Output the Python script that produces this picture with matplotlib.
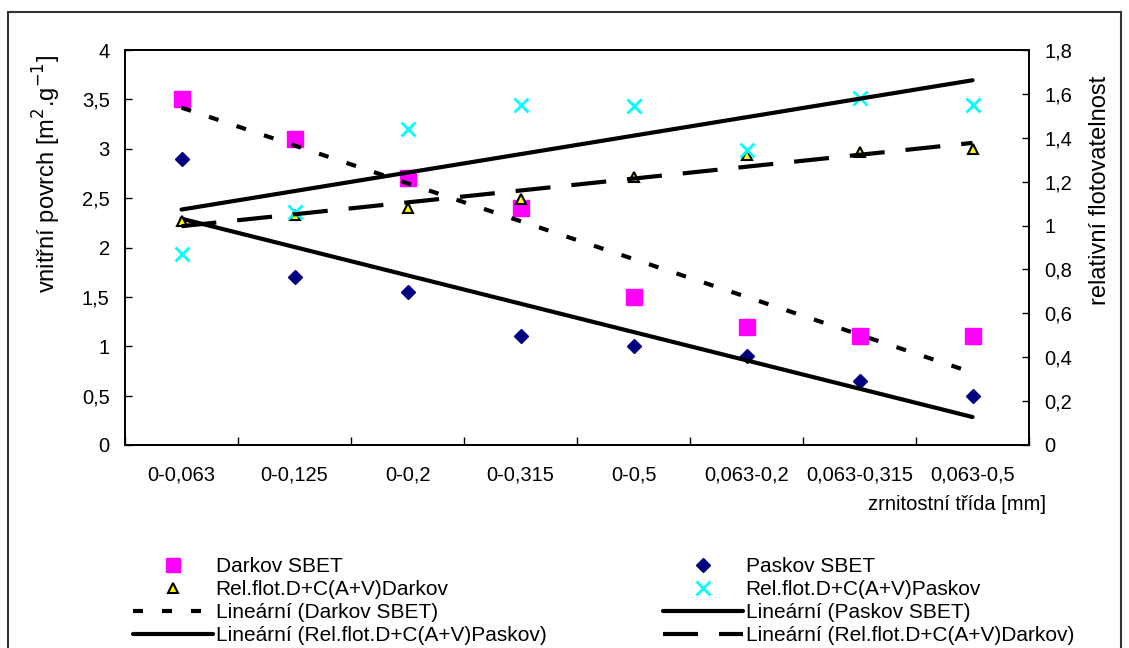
import numpy as np
import matplotlib
matplotlib.use("Agg")
import matplotlib.pyplot as plt
from matplotlib.lines import Line2D
from matplotlib.patches import Rectangle

plt.rcParams['font.family'] = ['Liberation Sans', 'DejaVu Sans']

categories = ['0-0,063', '0-0,125', '0-0,2', '0-0,315', '0-0,5',
              '0,063-0,2', '0,063-0,315', '0,063-0,5']
darkov_sbet = [3.5, 3.1, 2.7, 2.4, 1.5, 1.2, 1.1, 1.1]
paskov_sbet = [2.9, 1.7, 1.55, 1.1, 1.0, 0.9, 0.65, 0.5]
relflot_darkov = [1.02, 1.05, 1.08, 1.12, 1.22, 1.32, 1.335, 1.35]
relflot_paskov = [0.87, 1.06, 1.44, 1.55, 1.545, 1.345, 1.58, 1.55]

left_ticks = [0, 0.5, 1, 1.5, 2, 2.5, 3, 3.5, 4]
left_tick_labels = ['0', '0,5', '1', '1,5', '2', '2,5', '3', '3,5', '4']
right_ticks = [0, 0.2, 0.4, 0.6, 0.8, 1.0, 1.2, 1.4, 1.6, 1.8]
right_tick_labels = ['0', '0,2', '0,4', '0,6', '0,8', '1', '1,2', '1,4', '1,6', '1,8']

W, H = 1129, 648
FS = 14.5
LFS = 15
AFS = 17
fig = plt.figure(figsize=(W / 100, H / 100), dpi=100)
L, R, T, B = 125, 1029, 50, 445
ax = fig.add_axes([L / W, 1 - B / H, (R - L) / W, (B - T) / H])
ax2 = ax.twinx()

x = np.arange(len(categories))

# markers
ax.plot(x, darkov_sbet, ls='none', marker='s', ms=11.3, mfc='#FF00FF', mec='#FF00FF', zorder=3)
ax.plot(x, paskov_sbet, ls='none', marker='D', ms=7.2, mfc='#000080', mec='#000080', zorder=3)
ax2.plot(x, relflot_darkov, ls='none', marker='^', ms=6.5, mfc='#FFFF00', mec='black', mew=1.5, zorder=2)
ax2.plot(x, relflot_paskov, ls='none', marker='x', ms=10.5, mec='#00FFFF', mew=2.0, zorder=2)

lw = 3.0
lw_px = lw * 100 / 72
short_dash = (10 / lw_px, 19 / lw_px)
long_dash = (35 / lw_px, 21 / lw_px)

# linear trend lines
xs = np.array([x[0], x[-1]])
c = np.polyfit(x, darkov_sbet, 1)
ax.plot(xs, np.polyval(c, xs), color='black', lw=lw, dashes=short_dash, zorder=4)
c = np.polyfit(x, paskov_sbet, 1)
ax.plot(xs, np.polyval(c, xs), color='black', lw=lw, solid_capstyle='round', zorder=4)
c = np.polyfit(x, relflot_paskov, 1)
ax2.plot(xs, np.polyval(c, xs), color='black', lw=lw, solid_capstyle='round', zorder=4)
c = np.polyfit(x, relflot_darkov, 1)
ax2.plot(xs, np.polyval(c, xs), color='black', lw=lw, dashes=long_dash, zorder=4)

ax.set_xlim(-0.5, len(categories) - 0.5)
ax.set_ylim(0, 4)
ax2.set_ylim(0, 1.8)

ax.set_xticks(np.arange(len(categories) + 1) - 0.5)
ax.set_xticklabels([])
ax.set_xticks(x, minor=True)
ax.set_xticklabels(categories, minor=True, fontsize=FS)
ax.tick_params(axis='x', which='major', direction='in', length=6, width=1)
ax.tick_params(axis='x', which='minor', length=0, pad=15)

ax.set_yticks(left_ticks)
ax.set_yticklabels(left_tick_labels, fontsize=FS)
ax.tick_params(axis='y', direction='in', length=5, width=1, pad=11)
ax2.set_yticks(right_ticks)
ax2.set_yticklabels(right_tick_labels, fontsize=FS)
ax2.tick_params(axis='y', direction='in', length=5, width=1, pad=11)

for a in (ax, ax2):
    for s in a.spines.values():
        s.set_linewidth(1.3)
        s.set_color('black')

fig.text(47 / W, 1 - 55 / H, 'vnitřní povrch [m$^2$.g$^{-1}$]', rotation=90,
         ha='center', va='top', fontsize=AFS)
fig.text(1100 / W, 1 - 190 / H, 'relativní flotovatelnost', rotation=90,
         ha='center', va='center', fontsize=AFS)
fig.text(1046 / W, 1 - 505 / H, 'zrnitostní třída [mm]', ha='right', va='center', fontsize=FS)

# legend
h_dsbet = Line2D([], [], ls='none', marker='s', ms=9.5, mfc='#FF00FF', mec='#FF00FF')
h_psbet = Line2D([], [], ls='none', marker='D', ms=7.2, mfc='#000080', mec='#000080')
h_rd = Line2D([], [], ls='none', marker='^', ms=6.5, mfc='#FFFF00', mec='black', mew=1.5)
h_rp = Line2D([], [], ls='none', marker='x', ms=10.5, mec='#00FFFF', mew=2.0)
h_l_dsbet = Line2D([], [], color='black', lw=lw, dashes=short_dash)
h_l_psbet = Line2D([], [], color='black', lw=lw, solid_capstyle='round')
h_l_rp = Line2D([], [], color='black', lw=lw, solid_capstyle='round')
h_l_rd = Line2D([], [], color='black', lw=lw, dashes=long_dash)

hl = 80 / (LFS * 100 / 72)
common = dict(loc='upper left', frameon=False, borderpad=0, borderaxespad=0,
              handlelength=hl, handletextpad=0.12, labelspacing=0.19, fontsize=LFS)
fig.legend([h_dsbet, h_rd, h_l_dsbet, h_l_rp],
           ['Darkov SBET', 'Rel.flot.D+C(A+V)Darkov', 'Lineární (Darkov SBET)',
            'Lineární (Rel.flot.D+C(A+V)Paskov)'],
           bbox_to_anchor=(133 / W, 1 - 557 / H), **common)
fig.legend([h_psbet, h_rp, h_l_psbet, h_l_rd],
           ['Paskov SBET', 'Rel.flot.D+C(A+V)Paskov', 'Lineární (Paskov SBET)',
            'Lineární (Rel.flot.D+C(A+V)Darkov)'],
           bbox_to_anchor=(663 / W, 1 - 557 / H), **common)

fig.patches.append(Rectangle((8 / W, -0.05), (1121 - 8) / W, 1.05 - 12 / H,
                             transform=fig.transFigure, fill=False,
                             edgecolor='#333333', lw=1.5))

fig.savefig('out.png', dpi=100)
